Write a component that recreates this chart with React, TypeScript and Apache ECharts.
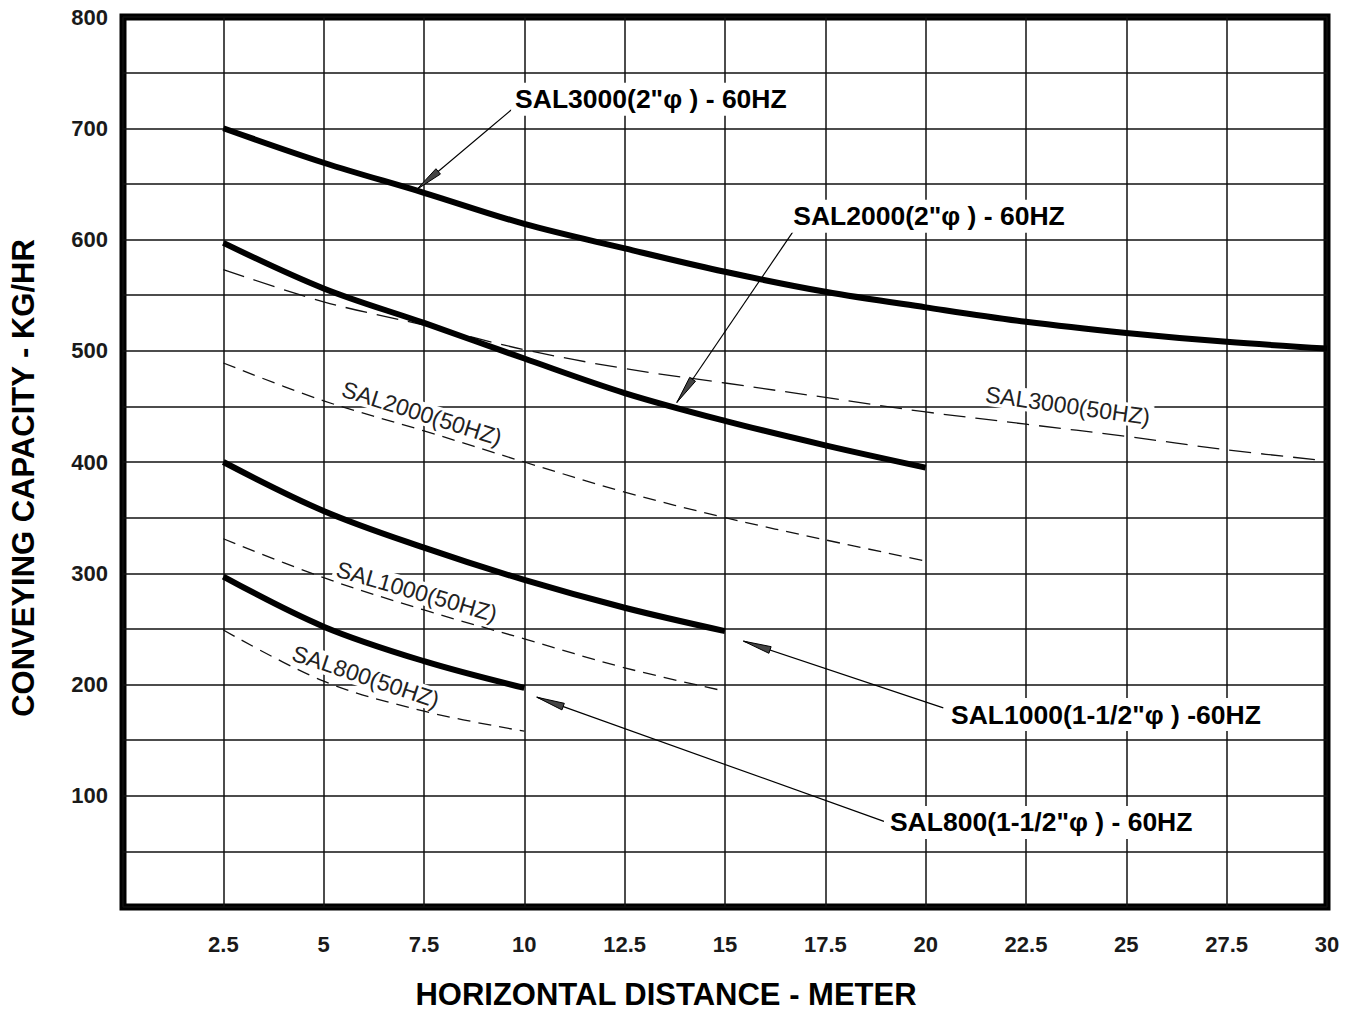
import React, { useEffect, useRef } from 'react';
import * as echarts from 'echarts';

const FONT = '"Liberation Sans", Arial, Helvetica, sans-serif';

// Horizontal distances (m) sampled for each curve
const distTo30 = [2.5, 5, 7.5, 10, 12.5, 15, 17.5, 20, 22.5, 25, 27.5, 30];
const distTo20 = [2.5, 5, 7.5, 10, 12.5, 15, 17.5, 20];
const distTo15 = [2.5, 5, 7.5, 10, 12.5, 15];
const distTo10 = [2.5, 5, 7.5, 10];

// Conveying capacity (kg/hr)
const sal3000_60 = [700, 669, 642, 614, 592, 571, 553, 539, 526, 516, 508, 502];
const sal3000_50 = [573, 544, 523, 501, 484, 471, 458, 445, 434, 423, 411, 401];
const sal2000_60 = [597, 556, 525, 493, 462, 437, 415, 395];
const sal2000_50 = [489, 455, 428, 400, 373, 350, 330, 311];
const sal1000_60 = [400, 356, 323, 294, 269, 248];
const sal1000_50 = [331, 296, 267, 241, 215, 194];
const sal800_60 = [297, 252, 221, 197];
const sal800_50 = [249, 203, 176, 158];

// Callout labels (60Hz) with leader lines, in data coordinates
const calloutTexts = [
  'SAL3000(2"\u03c6 ) - 60HZ',
  'SAL2000(2"\u03c6 ) - 60HZ',
  'SAL1000(1-1/2"\u03c6 ) -60HZ',
  'SAL800(1-1/2"\u03c6 ) - 60HZ',
];
const calloutTextAt = [[9.77, 726], [16.7, 621], [20.63, 173], [19.11, 76]];
const calloutFrom = [[9.69, 717], [16.75, 610], [20.44, 179], [18.96, 77]];
const calloutTo = [[7.32, 645], [13.8, 453.5], [15.46, 239], [10.31, 188.6]];

// Inline labels (50Hz curves)
const curveLabels = ['SAL3000(50HZ)', 'SAL2000(50HZ)', 'SAL1000(50HZ)', 'SAL800(50HZ)'];
const curveLabelAt = [[23.54, 450.7], [7.45, 443.8], [7.32, 283.5], [6.05, 207.1]];
const curveLabelAngle = [8, 17.5, 16, 18.5];

const xTitle = 'HORIZONTAL DISTANCE - METER';
const yTitle = 'CONVEYING CAPACITY - KG/HR';

export default function App() {
  const ref = useRef<HTMLDivElement>(null);

  useEffect(() => {
    if (!ref.current) return;
    const chart = echarts.init(ref.current, null, { renderer: 'svg' });

    const mk = (name: string, xs: number[], ys: number[], dash: number[] | null) => ({
      type: 'line',
      name,
      data: xs.map((x, i) => [x, ys[i]]),
      smooth: 0.35,
      symbol: 'none',
      silent: true,
      z: dash ? 3 : 4,
      lineStyle: dash
        ? { color: '#111', width: 1.3, type: dash }
        : { color: '#000', width: 6, cap: 'butt' },
    });

    chart.setOption({
      animation: false,
      backgroundColor: '#fff',
      grid: {
        left: 123,
        right: 26,
        top: 17,
        bottom: 105,
        show: true,
        borderColor: '#000',
        borderWidth: 7,
        backgroundColor: 'transparent',
      },
      xAxis: {
        type: 'value',
        min: 0,
        max: 30,
        interval: 2.5,
        axisLine: { show: false },
        axisTick: { show: false },
        splitLine: { show: true, lineStyle: { color: '#111', width: 1.5 } },
        axisLabel: {
          formatter: (v: number) => (v === 0 ? '' : String(v)),
          margin: 26,
          fontFamily: FONT,
          fontWeight: 'bold',
          fontSize: 22,
          color: '#1a1a1a',
        },
      },
      yAxis: {
        type: 'value',
        min: 0,
        max: 800,
        interval: 50,
        axisLine: { show: false },
        axisTick: { show: false },
        splitLine: { show: true, lineStyle: { color: '#111', width: 1.5 } },
        axisLabel: {
          formatter: (v: number) => (v !== 0 && v % 100 === 0 ? String(v) : ''),
          margin: 15,
          fontFamily: FONT,
          fontWeight: 'bold',
          fontSize: 22,
          color: '#1a1a1a',
        },
      },
      series: [
        mk('SAL3000 60HZ', distTo30, sal3000_60, null),
        mk('SAL3000 50HZ', distTo30, sal3000_50, [22, 10]),
        mk('SAL2000 60HZ', distTo20, sal2000_60, null),
        mk('SAL2000 50HZ', distTo20, sal2000_50, [13, 8]),
        mk('SAL1000 60HZ', distTo15, sal1000_60, null),
        mk('SAL1000 50HZ', distTo15, sal1000_50, [13, 8]),
        mk('SAL800 60HZ', distTo10, sal800_60, null),
        mk('SAL800 50HZ', distTo10, sal800_50, [13, 8]),
      ],
    });

    const px = (p: number[]) => chart.convertToPixel({ gridIndex: 0 }, p) as number[];
    const elements: any[] = [];

    calloutTexts.forEach((t, i) => {
      const a = px(calloutFrom[i]);
      const b = px(calloutTo[i]);
      const dx = b[0] - a[0];
      const dy = b[1] - a[1];
      const len = Math.hypot(dx, dy);
      const ux = dx / len;
      const uy = dy / len;
      const L = 28;
      const W = 3.5;
      const bx = b[0] - ux * L;
      const by = b[1] - uy * L;
      elements.push({
        type: 'line',
        z: 10,
        shape: { x1: a[0], y1: a[1], x2: b[0], y2: b[1] },
        style: { stroke: '#000', lineWidth: 1.2 },
      });
      elements.push({
        type: 'polygon',
        z: 11,
        shape: {
          points: [
            [b[0], b[1]],
            [bx - uy * W, by + ux * W],
            [bx + uy * W, by - ux * W],
          ],
        },
        style: { fill: '#444', stroke: '#000', lineWidth: 1 },
      });
      const tp = px(calloutTextAt[i]);
      elements.push({
        type: 'text',
        z: 12,
        x: tp[0] - 4,
        y: tp[1],
        style: {
          text: t,
          font: `bold 26.5px ${FONT}`,
          fill: '#000',
          align: 'left',
          verticalAlign: 'middle',
          backgroundColor: '#fff',
          padding: [3, 4],
        },
      });
    });

    curveLabels.forEach((t, i) => {
      const p = px(curveLabelAt[i]);
      elements.push({
        type: 'text',
        z: 12,
        x: p[0],
        y: p[1],
        rotation: (-curveLabelAngle[i] * Math.PI) / 180,
        style: {
          text: t,
          font: `23px ${FONT}`,
          fill: '#222',
          align: 'center',
          verticalAlign: 'middle',
          backgroundColor: '#fff',
          padding: [0, 3],
        },
      });
    });

    elements.push({
      type: 'text',
      z: 12,
      x: 666,
      y: 994,
      style: {
        text: xTitle,
        font: `bold 31px ${FONT}`,
        fill: '#000',
        align: 'center',
        verticalAlign: 'middle',
      },
    });
    elements.push({
      type: 'text',
      z: 12,
      x: 23,
      y: 478,
      rotation: Math.PI / 2,
      style: {
        text: yTitle,
        font: `bold 31px ${FONT}`,
        fill: '#000',
        align: 'center',
        verticalAlign: 'middle',
      },
    });

    chart.setOption({ graphic: elements });

    return () => chart.dispose();
  }, []);

  return (
    <div
      ref={ref}
      style={{ position: 'fixed', left: 0, top: 0, width: 1353, height: 1012, background: '#fff' }}
    />
  );
}
